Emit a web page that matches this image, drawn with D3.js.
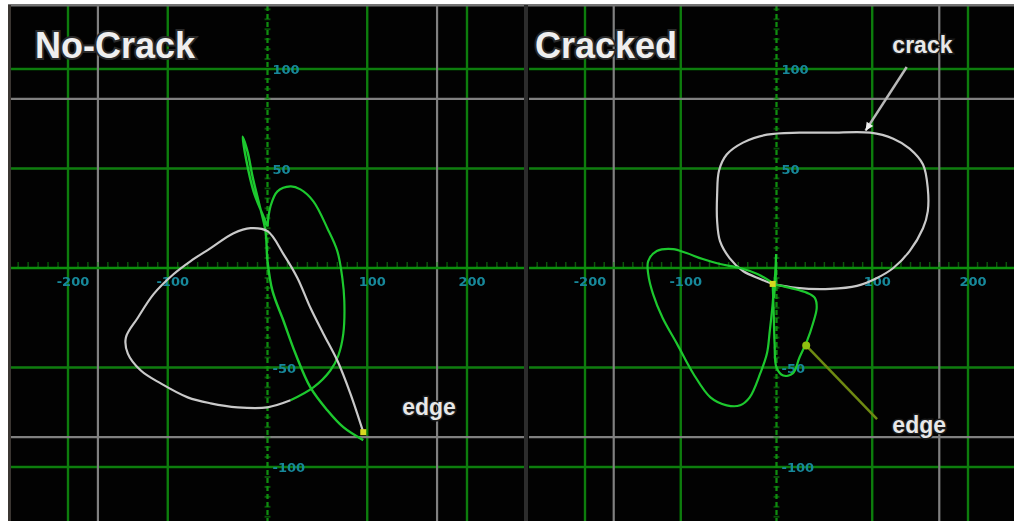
<!DOCTYPE html>
<html>
<head>
<meta charset="utf-8">
<script src="https://cdn.jsdelivr.net/npm/d3@7"></script>
<style>
  html, body { margin: 0; padding: 0; background: #fff; }
  svg { display: block; }
</style>
</head>
<body>
<div id="chart"></div>
<script>
(function () {
    const width = 1014, height = 521;

    // ── DATA ───────────────────────────────────────────────────────────────
    const gridX = [-200, -100, 0, 100, 200];
    const gridY = [-100, -50, 0, 50, 100];
    const xTickLabels = [-200, -100, 100, 200];
    const yTickLabels = [100, 50, -50, -100];
    const alarmX = [-170, 170];
    const alarmY = [-85, 85];

    const panelTitles = ["No-Crack", "Cracked"];

    // No-Crack: white trace (edge point -> centre -> loop round the left)
    const noCrackWhite = [
        [96, -82.5], [83, -63], [70, -46.5], [56, -33], [43, -20], [30, -5], [16, 7], [0, 18.5],
        [-17, 20], [-34, 17.5], [-57, 10], [-77, 3.5], [-94, -3], [-114, -13], [-130, -25],
        [-142, -35], [-140, -43], [-127, -51.5], [-107, -58], [-80, -65], [-57, -68],
        [-30, -70], [0, -70], [23, -66.5]
    ];
    // No-Crack: green lobe that continues from the white trace
    const noCrackGreenLobe = [
        [23, -66.5], [46, -60], [63, -51.5], [71, -44], [76, -33], [77, -16.5], [75, -5],
        [70, 8.5], [60, 20], [46, 33.5], [33, 39.5], [23, 41], [10, 38.5], [3, 31], [0, 21]
    ];
    // No-Crack: green spike above centre and the run down to the edge
    const noCrackGreenSpike = [
        [0, 21], [-5, 27], [-14, 38.5], [-21, 53.5], [-25, 66], [-20, 58.5], [-15, 46],
        [-9, 33.5], [-2, 18.5], [0, 3.5], [5, -11.5], [16, -26.5], [28, -43], [43, -60],
        [60, -71.5], [76, -80], [96, -86.5]
    ];

    // Cracked: white crack loop
    const crackedWhite = [
        [-4, -8], [-17, -5.5], [-35, -1.5], [-49, 5], [-59, 13.5], [-62, 23.5], [-62, 37],
        [-60, 49], [-52, 57], [-35, 63], [-10, 67], [24, 68], [56, 68], [98, 68], [122, 65],
        [139, 60], [153, 52], [158, 40], [158, 28.5], [153, 20], [139, 8.5], [122, 0],
        [105, -5], [84, -9], [56, -10.5], [21, -10], [-4, -8]
    ];
    // Cracked: green edge lobes
    const crackedGreenLeft = [
        [-4, -7.5], [-20, -3], [-38, 0], [-59, 2], [-77, 4.5], [-94, 7.5], [-108, 9.5],
        [-125, 8.5], [-134, 3.5], [-134, -3], [-129, -13], [-119, -25], [-104, -38],
        [-87, -53], [-69, -65], [-52, -69], [-38, -69], [-28, -65], [-17, -53], [-10, -43],
        [-7, -31.5], [-4, -18], [-3, -10]
    ];
    const crackedGreenRight = [
        [-4, -8], [14, -10], [32, -12.5], [40, -15], [42, -20], [38, -28], [32, -36.5],
        [24, -45], [17, -53], [7, -54], [0, -50], [-2, -38], [-3, -21.5], [-4, -8]
    ];
    const crackedGreenStem = [[0, 7], [-1, -3], [-3, -15]];

    // annotations: label position, optional arrow from/to (all in trace units)
    const noCrackEdge = { text: "edge", at: [135, -74] };
    const crackedCrack = { text: "crack", at: [121, 108], from: [136, 101], to: [93, 69] };
    const crackedEdge = { text: "edge", at: [121, -83], from: [105, -76], to: [31, -39] };

    // ── COLOURS ────────────────────────────────────────────────────────────
    const C = {
        bg: "#020202",
        grid: "#0b7d0b",
        alarm: "#808080",
        axis: "#0f8f0f",
        green: "#1ec82e",
        white: "#c9c9c9",
        tick: "#17889a",
        edgeArrow: "#6f8a12",
        dot: "#d8d820"
    };

    // ── SVG SETUP ──────────────────────────────────────────────────────────
    const svg = d3.select("#chart").append("svg")
        .attr("width", width).attr("height", height)
        .attr("viewBox", `0 0 ${width} ${height}`);

    const defs = svg.append("defs");
    defs.append("filter").attr("id", "soft")
        .append("feGaussianBlur").attr("stdDeviation", 0.7);
    defs.append("filter").attr("id", "soft2")
        .append("feGaussianBlur").attr("stdDeviation", 0.45);

    svg.append("rect").attr("width", width).attr("height", height).attr("fill", "#fff");
    svg.append("rect").attr("x", 8).attr("y", 5).attr("width", width - 8).attr("height", height - 5)
        .attr("fill", C.bg);

    const panels = [
        { x0: 11, x1: 526, range: [68, 467], title: panelTitles[0], tx: 35 },
        { x0: 529, x1: 1014, range: [585, 968], title: panelTitles[1], tx: 535 }
    ];
    const y = d3.scaleLinear().domain([-100, 100]).range([467, 69]);

    const line = xs => d3.line()
        .x(d => xs(d[0])).y(d => y(d[1]))
        .curve(d3.curveCatmullRom.alpha(0.5));

    panels.forEach((p, i) => {
        const x = d3.scaleLinear().domain([-200, 200]).range(p.range);
        p.x = x;
        defs.append("clipPath").attr("id", "clip" + i)
            .append("rect").attr("x", p.x0).attr("y", 6).attr("width", p.x1 - p.x0).attr("height", height - 6);

        const g = svg.append("g").attr("clip-path", `url(#clip${i})`);
        p.g = g;

        // grid
        const grid = g.append("g").attr("filter", "url(#soft2)");
        grid.selectAll(".gx").data(gridX.filter(v => v !== 0)).enter().append("line")
            .attr("x1", d => x(d)).attr("x2", d => x(d))
            .attr("y1", 6).attr("y2", height)
            .attr("stroke", C.grid).attr("stroke-width", 2.4);
        grid.selectAll(".gy").data(gridY.filter(v => v !== 0)).enter().append("line")
            .attr("x1", p.x0).attr("x2", p.x1)
            .attr("y1", d => y(d)).attr("y2", d => y(d))
            .attr("stroke", C.grid).attr("stroke-width", 2.4);

        // alarm box lines
        grid.selectAll(".ax").data(alarmX).enter().append("line")
            .attr("x1", d => x(d)).attr("x2", d => x(d))
            .attr("y1", 6).attr("y2", height)
            .attr("stroke", C.alarm).attr("stroke-width", 2.2);
        grid.selectAll(".ay").data(alarmY).enter().append("line")
            .attr("x1", p.x0).attr("x2", p.x1)
            .attr("y1", d => y(d)).attr("y2", d => y(d))
            .attr("stroke", C.alarm).attr("stroke-width", 2.2);

        // centre axes with minor ticks
        grid.append("line")
            .attr("x1", p.x0).attr("x2", p.x1).attr("y1", y(0)).attr("y2", y(0))
            .attr("stroke", C.axis).attr("stroke-width", 2.4);
        grid.append("line")
            .attr("x1", x(0)).attr("x2", x(0)).attr("y1", 6).attr("y2", height)
            .attr("stroke", C.axis).attr("stroke-width", 2.2)
            .attr("stroke-dasharray", "5,3");
        const hx = d3.range(-260, 260, 10).filter(v => v !== 0);
        grid.selectAll(".hx").data(hx).enter().append("line")
            .attr("x1", d => x(d)).attr("x2", d => x(d))
            .attr("y1", y(0) - 6).attr("y2", y(0))
            .attr("stroke", C.axis).attr("stroke-width", 1.5).attr("opacity", 0.6);
        const vy = d3.range(-130, 131, 5).filter(v => v !== 0);
        grid.selectAll(".vy").data(vy).enter().append("line")
            .attr("x1", x(0) - 3).attr("x2", x(0) + 3)
            .attr("y1", d => y(d)).attr("y2", d => y(d))
            .attr("stroke", C.axis).attr("stroke-width", 2).attr("opacity", 0.55);

        // tick labels
        const tl = g.append("g").attr("filter", "url(#soft)")
            .attr("font-family", "DejaVu Sans, sans-serif").attr("font-weight", "bold")
            .attr("font-size", 13).attr("fill", C.tick);
        tl.selectAll(".xl").data(xTickLabels).enter().append("text")
            .attr("x", d => x(d) + 5).attr("y", y(0) + 18)
            .attr("text-anchor", "middle").text(d => d);
        tl.selectAll(".yl").data(yTickLabels).enter().append("text")
            .attr("x", x(0) + 5).attr("y", d => y(d) + 5)
            .text(d => d);
    });

    // ── TRACES ─────────────────────────────────────────────────────────────
    function trace(p, data, color, w) {
        p.g.append("path").datum(data)
            .attr("d", line(p.x))
            .attr("fill", "none").attr("stroke", color)
            .attr("stroke-width", w || 2.2).attr("stroke-linejoin", "round")
            .attr("filter", "url(#soft2)");
    }

    const L = panels[0], R = panels[1];
    trace(L, noCrackGreenLobe, C.green);
    trace(L, noCrackGreenSpike, C.green, 2.4);
    trace(L, noCrackWhite, C.white);
    L.g.append("rect")
        .attr("x", L.x(noCrackWhite[0][0]) - 3).attr("y", y(noCrackWhite[0][1]) - 3)
        .attr("width", 6).attr("height", 6).attr("fill", C.dot);

    trace(R, crackedWhite, C.white);
    trace(R, crackedGreenLeft, C.green);
    trace(R, crackedGreenRight, C.green);
    trace(R, crackedGreenStem, C.green, 3);
    R.g.append("rect")
        .attr("x", R.x(crackedWhite[0][0]) - 3).attr("y", y(crackedWhite[0][1]) - 3)
        .attr("width", 6).attr("height", 6).attr("fill", C.dot);

    // ── ANNOTATIONS ────────────────────────────────────────────────────────
    function label(p, a, size) {
        p.g.append("text")
            .attr("x", p.x(a.at[0])).attr("y", y(a.at[1]))
            .attr("font-family", "Liberation Sans, Arial, sans-serif").attr("font-weight", "bold")
            .attr("font-size", size).attr("fill", "#e8e8e8")
            .attr("stroke", "#1a1a1a").attr("stroke-width", 3).attr("paint-order", "stroke")
            .text(a.text);
    }
    function arrow(p, a, color, head) {
        const x1 = p.x(a.from[0]), y1 = y(a.from[1]), x2 = p.x(a.to[0]), y2 = y(a.to[1]);
        p.g.append("line").attr("x1", x1).attr("y1", y1).attr("x2", x2).attr("y2", y2)
            .attr("stroke", color).attr("stroke-width", 2.5);
        const ang = Math.atan2(y2 - y1, x2 - x1), s = 9;
        if (head) {
            p.g.append("path")
                .attr("d", `M${x2},${y2}L${x2 - s * Math.cos(ang - 0.45)},${y2 - s * Math.sin(ang - 0.45)}` +
                    `L${x2 - s * Math.cos(ang + 0.45)},${y2 - s * Math.sin(ang + 0.45)}Z`)
                .attr("fill", "#eee");
        } else {
            p.g.append("circle").attr("cx", x2).attr("cy", y2).attr("r", 4).attr("fill", "#8fbf10");
        }
    }

    label(L, noCrackEdge, 23);
    arrow(R, crackedCrack, "#b8b8b8", true);
    label(R, crackedCrack, 23);
    arrow(R, crackedEdge, C.edgeArrow, false);
    label(R, crackedEdge, 23);

    // titles
    panels.forEach(p => {
        svg.append("text")
            .attr("x", p.tx).attr("y", 58)
            .attr("font-family", "Liberation Sans, Arial, sans-serif").attr("font-weight", "bold")
            .attr("font-size", 36).attr("fill", "#efefef")
            .attr("stroke", "#2a2a2a").attr("stroke-width", 4).attr("paint-order", "stroke")
            .text(p.title);
    });

    // ── FRAME ──────────────────────────────────────────────────────────────
    svg.append("rect").attr("x", 8).attr("y", 4).attr("width", width - 8).attr("height", 2.5).attr("fill", "#747474");
    svg.append("rect").attr("x", 8).attr("y", 5).attr("width", 3).attr("height", height - 5).attr("fill", "#3b3632");
    svg.append("rect").attr("x", 524).attr("y", 5).attr("width", 4).attr("height", height - 5).attr("fill", "#2c2c2c");
})();
</script>
</body>
</html>
